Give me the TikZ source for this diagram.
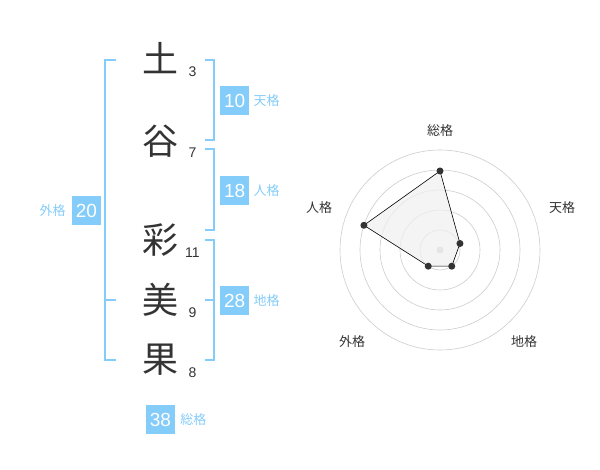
\documentclass[tikz,border=0pt]{standalone}
\usepackage{fontspec}
\setmainfont{Liberation Sans}
\newfontfamily\jpfont{Noto Sans CJK JP}
\usetikzlibrary{positioning}
\definecolor{kakublue}{HTML}{84CCFA}
\definecolor{ink}{HTML}{333333}
\definecolor{ringgray}{HTML}{CCCCCC}
\begin{document}
\begin{tikzpicture}[x=1pt,y=-1pt,every node/.style={inner sep=0pt}]
    \tikzset{
      kanji/.style={font=\jpfont\fontsize{36}{36}\selectfont,text=ink},
      strokes/.style={font=\fontsize{14}{14}\selectfont,text=ink},
      scorebox/.style={fill=kakublue,text=white,minimum size=29pt,font=\fontsize{19}{19}\selectfont},
      kaku/.style={font=\jpfont\fontsize{13}{13}\selectfont,text=kakublue},
      bracket/.style={kakublue,line width=2pt},
      ring/.style={ringgray,line width=0.6pt},
      axislabel/.style={font=\jpfont\fontsize{13}{13}\selectfont,text=ink},
      vertex/.style={circle,fill=ink,minimum size=7pt}
    }
    \useasboundingbox (0,0) rectangle (600,470);
    % name characters with stroke counts
    \foreach \id/\ch/\y/\n/\ny in {c1/土/58/3/72,c2/谷/141/7/152.5,c3/彩/240.5/11/253,c4/美/300/9/313,c5/果/359.5/8/373} {
      \node[kanji] (\id) at (160,\y) {\ch};
      \node[strokes] (\id-n) at (192.5,\ny) {\n};
    }
    % brackets
    \draw[bracket] (116,60) -| (105,360) -- (116,360);
    \draw[bracket] (105,300) -- (116,300);
    \draw[bracket] (205,60) -| (214,140) -- (205,140);
    \draw[bracket] (205,149) -| (214,230) -- (205,230);
    \draw[bracket] (205,240) -| (214,360) -- (205,360);
    \draw[bracket] (205,300) -- (214,300);
    % scores
    \node[scorebox] (ten) at (234.7,100.5) {10};
    \node[kaku,right=4pt of ten] (ten-l) {天格};
    \node[scorebox] (jin) at (234.7,190.5) {18};
    \node[kaku,right=4pt of jin] (jin-l) {人格};
    \node[scorebox] (chi) at (234.7,300.5) {28};
    \node[kaku,right=4pt of chi] (chi-l) {地格};
    \node[scorebox] (gai) at (86.5,210.5) {20};
    \node[kaku,left=6pt of gai] (gai-l) {外格};
    \node[scorebox] (sou) at (160.5,419.5) {38};
    \node[kaku,right=5pt of sou] (sou-l) {総格};
    % radar chart
    \begin{scope}[shift={(440,250)},y=1pt]
      \foreach \r in {20,40,...,100}
        \draw[ring] (0,0) circle (\r);
      \node[circle,fill=ringgray,minimum size=7pt] (hub) at (0,0) {};
      \foreach \id/\ang/\r in {sou/90/79,ten/18/21,chi/-54/20,gai/-126/20,jin/162/80}
        \coordinate (p-\id) at (\ang:\r);
      \filldraw[fill=black!6,fill opacity=0.7,draw=black,line width=0.6pt]
        (p-sou) -- (p-ten) -- (p-chi) -- (p-gai) -- (p-jin) -- cycle;
      \foreach \id in {sou,ten,chi,gai,jin}
        \node[vertex] (v-\id) at (p-\id) {};
      \node[axislabel] (a-sou) at (0,119) {総格};
      \node[axislabel] (a-ten) at (122,42) {天格};
      \node[axislabel] (a-chi) at (84,-92) {地格};
      \node[axislabel] (a-gai) at (-88,-92) {外格};
      \node[axislabel] (a-jin) at (-121,42) {人格};
    \end{scope}
\end{tikzpicture}
\end{document}
